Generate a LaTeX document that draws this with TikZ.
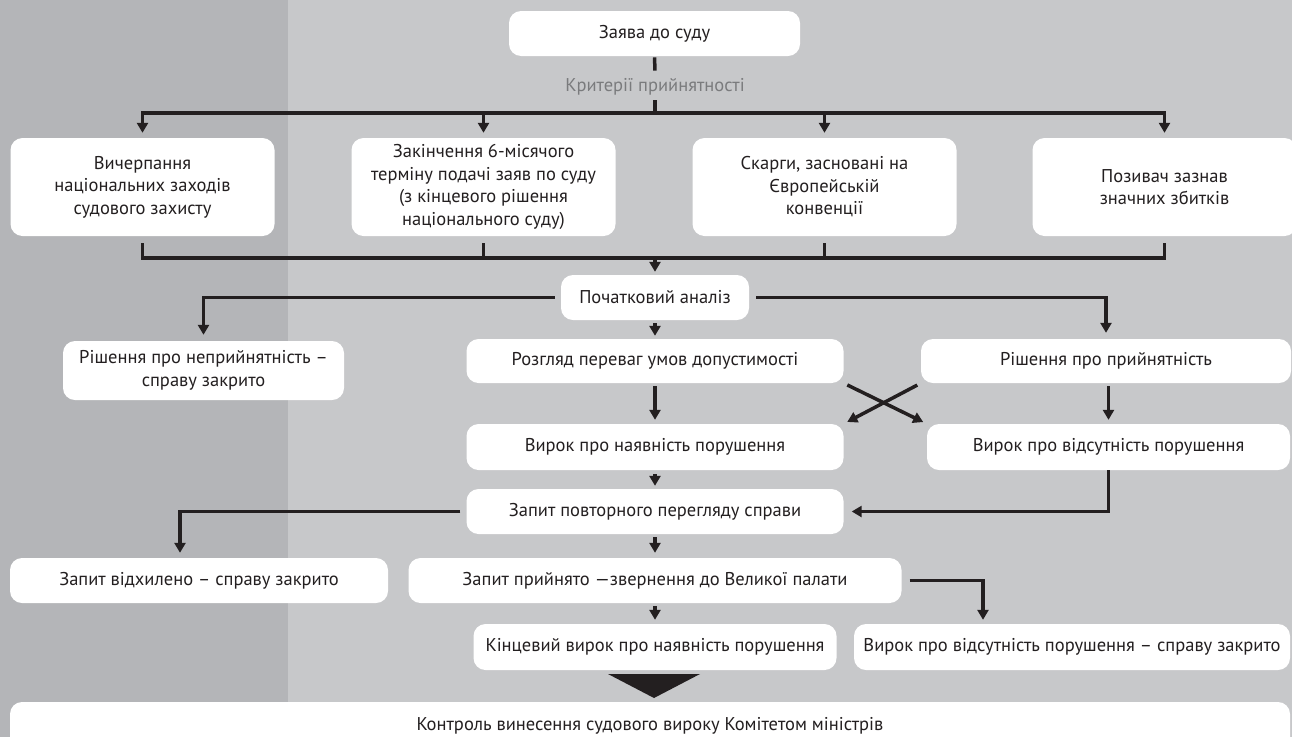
\documentclass[tikz,border=0pt]{standalone}
\usepackage{fontspec}
\setmainfont{PT Sans}
\usetikzlibrary{arrows.meta}
\definecolor{bandgray}{HTML}{B4B5B8}
\definecolor{bggray}{HTML}{C7C8CA}
\definecolor{inkdark}{HTML}{231F20}
\definecolor{critgray}{HTML}{7A7B7D}
\begin{document}
\begin{tikzpicture}[x=1pt, y=-1pt,
  box/.style={fill=white, rounded corners=12pt, inner sep=0pt, align=center, text=inkdark, font=\fontsize{18.5}{22.5}\selectfont},
  ln/.style={draw=inkdark, line width=3.5pt, line cap=rect},
  arr/.style={draw=inkdark, line width=3.5pt, -{Triangle[width=11pt,length=10pt]}}]
\fill[bggray] (0,0) rectangle (1292,737);
\fill[bandgray] (0,0) rectangle (288,737);
\useasboundingbox (0,0) rectangle (1292,737);
\node[box, minimum width=291pt, minimum height=45pt] (zayava) at (654.5,33.5) {Заява до суду};
\node[text=critgray, inner sep=0pt, minimum height=30pt, font=\fontsize{18.5}{22.5}\selectfont] (kryt) at (655,87) {Критерії прийнятності};
\node[box, minimum width=264pt, minimum height=98pt] (vych) at (142.5,187) {Вичерпання\\національних заходів\\судового захисту};
\node[box, minimum width=264pt, minimum height=98pt] (termin) at (483.5,187) {Закінчення 6-місячого\\терміну подачі заяв по суду\\(з кінцевого рішення\\національного суду)};
\node[box, minimum width=264pt, minimum height=98pt] (skarhy) at (824.5,187) {Скарги, засновані на\\Європейській\\конвенції};
\node[box, minimum width=264pt, minimum height=98pt] (pozyv) at (1164.5,187) {Позивач зазнав\\значних збитків};
\node[box, minimum width=188pt, minimum height=45pt] (analiz) at (655,297.5) {Початковий аналіз};
\node[box, minimum width=281pt, minimum height=59pt] (nepryin) at (203.5,370.5) {Рішення про неприйнятність –\\справу закрито};
\node[box, minimum width=377pt, minimum height=44pt] (rozglyad) at (655,361) {Розгляд переваг умов допустимості};
\node[box, minimum width=370pt, minimum height=44pt] (pryin) at (1106,361) {Рішення про прийнятність};
\node[box, minimum width=377pt, minimum height=46pt] (naiavn) at (655,447) {Вирок про наявність порушення};
\node[box, minimum width=363pt, minimum height=46pt] (vidsut) at (1108.5,447) {Вирок про відсутність порушення};
\node[box, minimum width=377pt, minimum height=45pt] (povtor) at (655,511.5) {Запит повторного перегляду справи};
\node[box, minimum width=378pt, minimum height=45pt] (vidhyl) at (199,580.5) {Запит відхилено – справу закрито};
\node[box, minimum width=493pt, minimum height=45pt] (pryinyato) at (655,580.5) {Запит прийнято —звернення до Великої палати};
\node[box, minimum width=363pt, minimum height=46pt] (kintsev) at (655,647) {Кінцевий вирок про наявність порушення};
\node[box, minimum width=436pt, minimum height=46pt] (zakryto) at (1072,647) {Вирок про відсутність порушення – справу закрито};
\node[box, minimum width=1280pt, minimum height=48pt] (kontrol) at (650,726) {Контроль винесення судового вироку Комітетом міністрів};
\coordinate (bus1) at (655,113);
\coordinate (bus2) at (655,258);
\draw[ln, shorten <=3pt, shorten >=3pt] (zayava.south) -- (kryt.north);
\draw[ln] (kryt.south) -- (bus1);
\draw[ln] (vych.north |- bus1) -- (pozyv.north |- bus1);
\foreach \n in {vych,termin,skarhy,pozyv}
  \draw[arr, shorten >=5pt] (\n.north |- bus1) -- (\n.north);
\foreach \n in {vych,termin,skarhy,pozyv}
  \draw[ln, shorten <=9pt] (\n.south) -- (\n.south |- bus2);
\draw[ln] (vych.south |- bus2) -- (pozyv.south |- bus2);
\draw[arr, shorten >=3pt] (bus2) -- (analiz.north);
\draw[arr, shorten <=6pt, shorten >=6pt] (analiz.west) -| (nepryin.north);
\draw[arr, shorten <=7pt, shorten >=6pt] (analiz.east) -| (pryin.north);
\draw[arr, shorten <=3pt, shorten >=3pt] (analiz) -- (rozglyad);
\draw[arr, shorten <=3pt, shorten >=4pt] (rozglyad) -- (naiavn);
\draw[arr, shorten <=3pt, shorten >=4pt] (pryin.south -| vidsut) -- (vidsut.north);
\draw[arr, shorten <=4pt, shorten >=4pt] (rozglyad.south east) -- (vidsut.north west);
\draw[arr, shorten <=4pt, shorten >=4pt] (pryin.south west) -- (naiavn.north east);
\draw[arr, shorten <=4pt, shorten >=3pt] (naiavn) -- (povtor);
\draw[arr, shorten >=8pt] (vidsut.south) |- (povtor.east);
\draw[arr, shorten <=6pt, shorten >=5pt] (povtor.west) -| ([xshift=-19pt]vidhyl.north);
\draw[arr, shorten <=3pt, shorten >=5pt] (povtor) -- (pryinyato);
\draw[arr, shorten <=8pt, shorten >=4pt] (pryinyato.east) -| ([xshift=-89pt]zakryto.north);
\draw[arr, shorten <=3pt, shorten >=4pt] (pryinyato) -- (kintsev);
\fill[inkdark] (608,674) -- (700,674) -- (654,698) -- cycle;
\end{tikzpicture}
\end{document}
